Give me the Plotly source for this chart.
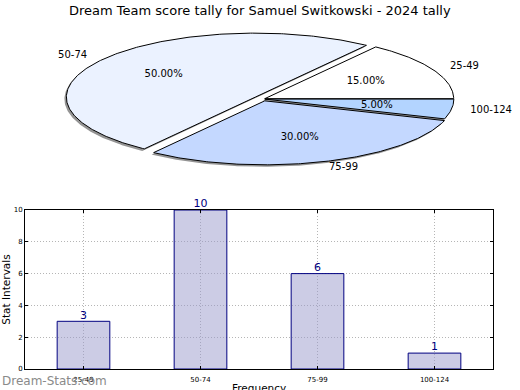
import numpy as np
import plotly.graph_objects as go

# ---------------- data ----------------
chart_title = "Dream Team score tally for Samuel Switkowski - 2024 tally"
categories = ["25-49", "50-74", "75-99", "100-124"]
counts = [3, 10, 6, 1]
slice_colors = ["#FFFFFF", "#EBF2FF", "#C4D8FF", "#B3D4FF"]
explode = [0.01, 0.05, 0.03, 0.01]
y_ticks = [0, 2, 4, 6, 8, 10]
x_title = "Frequency"
y_title = "Stat Intervals"

# ---------------- pie geometry (pixel-like axis units) ----------------
W, H = 520, 390
CX, CY, RA, RB = 263.0, 99.0, 189.0, 64.0
SHADOW_DX, SHADOW_DY = -2.0, 2.0
FONT = "DejaVu Sans"
BAR_X0, BAR_X1 = 25 / W, 493 / W

total = float(sum(counts))
fig = go.Figure()

angles = []
start = 0.0
for v in counts:
    sweep = 360.0 * v / total
    angles.append((start, start + sweep))
    start += sweep


def wedge(t1, t2, ox, oy):
    ts = np.radians(np.linspace(t1, t2, max(8, int((t2 - t1) * 1.5))))
    xs = [ox] + list(ox + RA * np.cos(ts)) + [ox]
    ys = [oy] + list(oy - RB * np.sin(ts)) + [oy]
    return xs, ys


offsets = []
for (t1, t2), e in zip(angles, explode):
    m = np.radians((t1 + t2) / 2)
    offsets.append((CX + RA * e * np.cos(m), CY - RB * e * np.sin(m)))

# shadows
for (t1, t2), (ox, oy) in zip(angles, offsets):
    xs, ys = wedge(t1, t2, ox + SHADOW_DX, oy + SHADOW_DY)
    fig.add_trace(go.Scatter(x=xs, y=ys, xaxis="x2", yaxis="y2", mode="lines",
                             fill="toself", fillcolor="rgba(90,90,90,0.65)",
                             line=dict(width=0, color="rgba(0,0,0,0)"),
                             hoverinfo="skip", showlegend=False))
# slices
for (t1, t2), (ox, oy), col, cat in zip(angles, offsets, slice_colors, categories):
    xs, ys = wedge(t1, t2, ox, oy)
    fig.add_trace(go.Scatter(x=xs, y=ys, xaxis="x2", yaxis="y2", mode="lines",
                             fill="toself", fillcolor=col,
                             line=dict(width=1, color="#000000"),
                             name=cat, hoverinfo="name", showlegend=False))

# labels
lx, ly, lpos, px, py, ptxt = [], [], [], [], [], []
for (t1, t2), (ox, oy), v in zip(angles, offsets, counts):
    m = np.radians((t1 + t2) / 2)
    lx.append(ox + 1.1 * RA * np.cos(m))
    ly.append(oy - 1.1 * RB * np.sin(m))
    lpos.append("middle right" if np.cos(m) >= 0 else "middle left")
    px.append(ox + 0.6 * RA * np.cos(m))
    py.append(oy - 0.6 * RB * np.sin(m))
    ptxt.append(f"{100 * v / total:.2f}%")

fig.add_trace(go.Scatter(x=lx, y=ly, xaxis="x2", yaxis="y2", mode="text",
                         text=categories, textposition=lpos,
                         textfont=dict(family=FONT, size=10, color="#000000"),
                         hoverinfo="skip", showlegend=False, cliponaxis=False))
fig.add_trace(go.Scatter(x=px, y=py, xaxis="x2", yaxis="y2", mode="text",
                         text=ptxt, textposition="middle center",
                         textfont=dict(family=FONT, size=10, color="#000000"),
                         hoverinfo="skip", showlegend=False, cliponaxis=False))

# ---------------- bar chart ----------------
# translucent fill so the dotted grid shows through (renders as #CCCCE5 over white)
fig.add_trace(go.Bar(x=categories, y=counts, width=0.45,
                     marker=dict(color="rgba(153,153,203,0.5)",
                                 line=dict(color="#000080", width=1)),
                     hoverinfo="x+y", showlegend=False))
fig.add_trace(go.Scatter(x=categories, y=counts, mode="text",
                         text=[str(c) for c in counts], textposition="top center",
                         textfont=dict(family=FONT, size=11, color="#000080"),
                         cliponaxis=False, hoverinfo="skip", showlegend=False))

axis_common = dict(showline=True, mirror="ticks", linecolor="#000000", linewidth=1,
                   showgrid=True, gridcolor="#b5b5b5", griddash="1px,2px", gridwidth=1,
                   ticks="inside", ticklen=3, tickcolor="#000000",
                   tickfont=dict(family=FONT, size=7, color="#000000"),
                   zeroline=False, automargin=False)

fig.update_layout(
    width=W, height=H, autosize=False,
    margin=dict(l=0, r=0, t=0, b=0),
    paper_bgcolor="#FFFFFF", plot_bgcolor="rgba(0,0,0,0)",
    font=dict(family=FONT),
    xaxis=dict(domain=[BAR_X0, BAR_X1], anchor="y", type="category",
               range=[-0.5, 3.5], ticklabelstandoff=4,
               **axis_common),
    yaxis=dict(domain=[21 / H, 180 / H], anchor="x", range=[0, 10],
               tickvals=y_ticks,
               title=dict(text=y_title, font=dict(family=FONT, size=10.5, color="#000000"), standoff=4),
               **axis_common),
    xaxis2=dict(domain=[0, 1], anchor="y2", range=[0, W], visible=False, fixedrange=True),
    yaxis2=dict(domain=[1 - 195 / H, 1], anchor="x2", range=[195, 0], visible=False, fixedrange=True),
    annotations=[
        dict(text=chart_title, x=0.5, y=1 - 10 / H, xref="paper", yref="paper",
             xanchor="center", yanchor="middle", showarrow=False,
             font=dict(family=FONT, size=13, color="#000000")),
        dict(text=x_title, x=(BAR_X0 + BAR_X1) / 2, y=2.5 / H, xref="paper", yref="paper",
             xanchor="center", yanchor="middle", showarrow=False,
             font=dict(family=FONT, size=10.5, color="#000000")),
        dict(text="Dream-Stats.com", x=0, y=9 / H, xref="paper", yref="paper",
             xanchor="left", yanchor="middle", showarrow=False,
             font=dict(family=FONT, size=12, color="#8a8a8a")),
    ],
)

fig.write_html("out.html", config={"displayModeBar": False},
               post_script="document.body.style.margin='0';")
